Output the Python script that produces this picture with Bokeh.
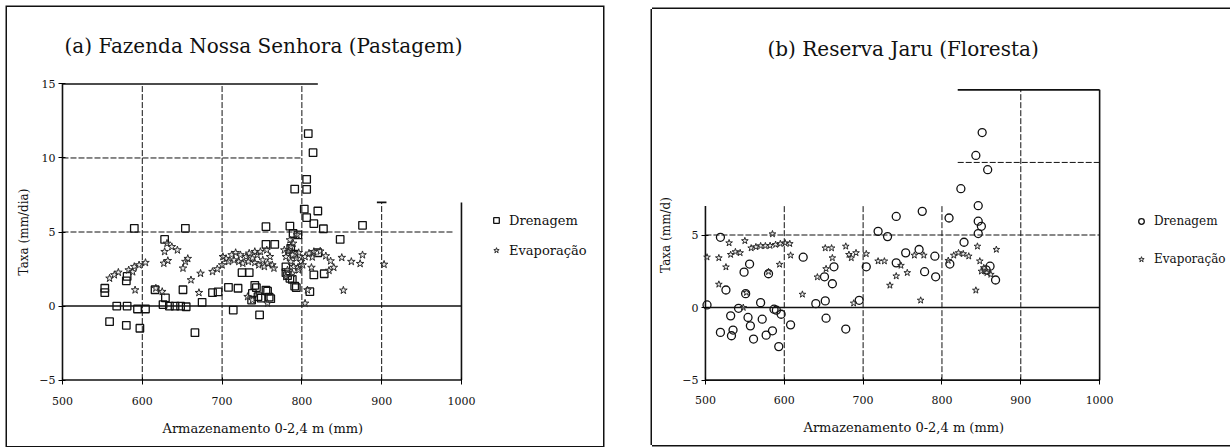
from bokeh.plotting import figure
from bokeh.models import (Range1d, FixedTicker, Legend, LegendItem, Spacer, Title)
from bokeh.layouts import row, column
from bokeh.embed import file_html
from bokeh.resources import INLINE

FONT = "DejaVu Serif"

# ---------------- data: (a) Fazenda Nossa Senhora (Pastagem) ----------------
a_dren_x = [553, 553, 559, 568, 581, 580, 581, 580, 590, 594, 604, 597, 616, 628, 629,
            626, 634, 641, 648, 655, 651, 654, 675, 666, 688, 695, 708, 720, 714, 725,
            734, 741, 738, 747, 755, 755, 766, 755, 759, 745, 737, 743, 757, 749, 761,
            785, 789, 780, 780, 785, 791, 786, 790, 782, 788, 793, 791, 806, 806, 808,
            814, 803, 806, 820, 815, 827, 876, 848, 820, 815, 828, 810, 795]
a_dren_y = [1.2, 0.9, -1.06, 0.0, 0.0, 1.7, 2.0, -1.3, 5.25, -0.2, -0.2, -1.5, 1.1, 4.5, 0.55,
            0.1, 0.0, 0.0, 0.0, -0.05, 1.1, 5.25, 0.25, -1.8, 0.9, 0.95, 1.26, 1.2, -0.27, 2.25,
            2.25, 1.4, 0.85, -0.6, 5.36, 4.17, 4.17, 1.08, 0.6, 0.63, 0.4, 1.24, 1.0, 0.54, 0.5,
            5.4, 4.9, 2.65, 2.25, 1.87, 1.35, 3.9, 3.5, 2.05, 1.8, 1.24, 7.9, 8.56, 7.88, 11.65,
            10.36, 6.55, 5.97, 6.42, 5.56, 5.22, 5.45, 4.5, 3.6, 2.1, 2.18, 0.97, 4.8]

a_evap_x = [559, 565, 570, 583, 590, 596, 604, 588, 591, 617, 625, 628, 631, 637, 644,
            627, 632, 651, 654, 657, 661, 673, 671, 688, 694, 700, 705, 712, 717, 723,
            730, 738, 744, 751, 757, 763, 732, 738, 757, 780, 784, 789, 794, 786, 782,
            788, 804, 807, 823, 830, 836, 840, 834, 850, 862, 873, 876, 852, 903, 796,
            795, 813, 812,
            701, 708, 715, 721, 726, 733, 741, 746, 753, 760, 765, 734, 741, 748, 756,
            778, 783, 788, 793, 799, 804, 809, 815, 786, 790, 796, 801, 785, 780]
a_evap_y = [1.87, 2.1, 2.27, 2.43, 2.66, 2.77, 2.93, 2.3, 1.08, 1.2, 0.97, 3.67, 4.23, 4.0, 3.78,
            2.88, 3.06, 2.55, 3.0, 3.2, 1.76, 2.2, 0.9, 2.32, 2.5, 2.77, 3.2, 3.45, 3.6, 3.45,
            3.33, 3.22, 3.45, 3.1, 2.88, 2.77, 0.63, 0.4, 0.18, 3.33, 3.78, 4.23, 4.8, 3.0, 2.43,
            2.2, 0.18, 1.08, 3.7, 3.38, 3.04, 2.6, 2.4, 3.27, 3.0, 2.86, 3.45, 1.06, 2.81, 3.6,
            2.6, 3.3, 2.6,
            3.33, 3.0, 3.1, 3.0, 2.88, 3.0, 2.93, 2.77, 2.66, 3.33, 2.55, 3.56, 3.67, 3.67, 3.78,
            3.78, 3.67, 3.45, 3.22, 3.0, 3.33, 3.56, 3.67, 4.0, 2.66, 2.43, 2.77, 4.46, 1.98]

# ---------------- data: (b) Reserva Jaru (Floresta) ----------------
b_dren_x = [502, 519, 526, 519, 532, 533, 535, 542, 549, 556, 551, 554, 557, 561, 570,
            572, 577, 580, 585, 587, 590, 596, 593, 608, 624, 640, 652, 651, 661, 663,
            653, 678, 695, 704, 719, 731, 742, 742, 775, 754, 771, 778, 791, 792, 809,
            824, 843, 851, 858, 846, 846, 850, 846, 828, 810, 861, 868, 856]
b_dren_y = [0.18, 4.84, 1.21, -1.71, -0.57, -1.94, -1.55, -0.05, 2.44, 3.0, 0.96, -0.68, -1.26, -2.17, 0.34,
            -0.8, -1.9, 2.33, -1.6, -0.11, -0.18, -0.46, -2.69, -1.19, 3.47, 0.27, 0.46, 2.12, 1.64, 2.81,
            -0.73, -1.48, 0.5, 2.81, 5.25, 4.89, 6.28, 3.08, 6.63, 3.77, 4.0, 2.47, 3.54, 2.12, 6.17,
            8.19, 10.48, 12.06, 9.5, 7.02, 5.95, 5.6, 5.1, 4.5, 3.0, 2.85, 1.9, 2.6]

b_evap_x = [502, 517, 526, 530, 532, 538, 544, 550, 558, 564, 570, 576, 582, 589, 595,
            601, 607, 585, 580, 594, 608, 517, 552, 548, 623, 642, 653, 652, 660, 661,
            678, 682, 685, 691, 704, 688, 719, 727, 734, 742, 748, 756, 765, 773, 777,
            808, 815, 821, 827, 834, 845, 869, 843, 848, 853, 857, 862, 850]
b_evap_y = [3.47, 3.42, 2.79, 4.45, 3.65, 3.84, 3.77, 4.6, 4.1, 4.18, 4.25, 4.25, 4.27, 4.34, 4.4,
            4.45, 4.4, 5.07, 2.47, 2.97, 3.6, 1.6, 1.03, 0.0, 0.91, 2.1, 2.67, 4.1, 4.1, 3.42,
            4.22, 3.65, 3.42, 3.77, 3.7, 0.3, 3.2, 3.2, 1.53, 2.17, 2.9, 2.4, 3.6, 0.5, 3.6,
            3.24, 3.6, 3.77, 3.7, 3.54, 4.22, 4.0, 1.19, 3.2, 2.74, 2.4, 2.28, 2.5]

x_ticks = [500, 600, 700, 800, 900, 1000]
a_y_ticks = [-5, 0, 5, 10, 15]
b_y_ticks = [-5, 0, 5]

titles = ["(a) Fazenda Nossa Senhora (Pastagem)", "(b) Reserva Jaru (Floresta)"]
y_labels = ["Taxa (mm/dia)", "Taxa (mm/d)"]
x_label = "Armazenamento 0-2,4 m (mm)"
series_names = ["Drenagem", "Evaporação"]

# frame decoration lines (x0, y0, x1, y1) in axis units
a_solid = [(500, -5, 500, 15), (500, -5, 1000, -5), (500, 15, 820, 15),
           (1000, -5, 1000, 7), (500, 0, 1000, 0), (894, 7, 906, 7)]
a_dash = [(600, -5, 600, 15), (700, -5, 700, 15), (800, -5, 800, 15),
          (900, -5, 900, 7), (500, 10, 800, 10), (500, 5, 990, 5)]
b_solid = [(500, -5, 500, 7), (500, -5, 1000, -5), (820, 15, 1000, 15),
           (1000, -5, 1000, 15), (500, 0, 1000, 0)]
b_dash = [(600, -5, 600, 7), (700, -5, 700, 7), (800, -5, 800, 7),
          (900, -5, 900, 15), (500, 5, 1000, 5), (820, 10, 1000, 10)]


def seg(p, lines, dash):
    x0, y0, x1, y1 = zip(*lines)
    p.segment(list(x0), list(y0), list(x1), list(y1), line_color="#111111",
              line_width=1.0 if dash else 1.6, line_dash="6 2" if dash else "solid")


def panel(W, H, fh, mbl, mbt, x_end, yticks, ylab, solid, dash, title, t_off, t_standoff,
          dx, dy, ex, ey, marker, msize, ssize, leg_loc, leg_spacing,
          leg_font, ylab_standoff, xtick_standoff, xl_off, xl_standoff, shadow):
    p = figure(width=W, height=H,
               min_border_left=mbl, min_border_right=0,
               min_border_top=mbt, min_border_bottom=H - mbt - fh,
               x_range=Range1d(495, x_end), y_range=Range1d(-5.3, 15.3),
               output_backend="svg", toolbar_location=None,
               styles={"box-shadow": shadow})
    p.outline_line_color = None
    p.xgrid.visible = False
    p.ygrid.visible = False
    for ax in (p.xaxis, p.yaxis):
        ax.axis_line_color = None
        ax.major_tick_out = 0
        ax.major_tick_in = 7
        ax.minor_tick_line_color = None
        ax.major_label_text_font = FONT
        ax.major_label_text_font_size = "11px"
        ax.major_label_text_color = "#111111"
        ax.axis_label_text_font = FONT
        ax.axis_label_text_font_style = "normal"
        ax.axis_label_text_color = "#111111"
    p.xaxis.ticker = FixedTicker(ticks=x_ticks)
    p.yaxis.ticker = FixedTicker(ticks=yticks)
    p.xaxis.major_label_standoff = xtick_standoff
    p.yaxis.major_label_standoff = 3
    p.yaxis.axis_label = ylab
    p.yaxis.axis_label_text_font_size = "12px"
    p.yaxis.axis_label_standoff = ylab_standoff

    p.title.text = title
    p.title.align = "left"
    p.title.offset = t_off
    p.title.text_font = FONT
    p.title.text_font_size = "20px"
    p.title.text_font_style = "normal"
    p.title.text_color = "#111111"
    p.title.standoff = t_standoff

    p.add_layout(Title(text=x_label, align="left", offset=xl_off, standoff=xl_standoff,
                       text_font=FONT, text_font_size="13px", text_font_style="normal",
                       text_color="#111111"), "below")

    seg(p, dash, True)
    seg(p, solid, False)

    r1 = p.scatter(dx, dy, marker=marker, size=msize, fill_color=None,
                   line_color="#111111", line_width=1.3)
    r2 = p.scatter(ex, ey, marker="star", size=ssize, fill_color="#cccccc", fill_alpha=0.4,
                   line_color="#2a2a2a", line_width=1.0)

    leg = Legend(items=[LegendItem(label=series_names[0], renderers=[r1]),
                        LegendItem(label=series_names[1], renderers=[r2])],
                 location=leg_loc, border_line_color=None, background_fill_alpha=0,
                 label_text_font=FONT, label_text_font_size=leg_font,
                 label_text_color="#111111",
                 glyph_width=14, glyph_height=20, label_height=20,
                 spacing=leg_spacing, padding=0, margin=0, label_standoff=6)
    p.add_layout(leg)
    return p


pa = panel(596, 439, 305, 51, 72, 1178, a_y_ticks, y_labels[0], a_solid, a_dash,
           titles[0], 6, 44, a_dren_x, a_dren_y, a_evap_x, a_evap_y,
           "square", 7.5, 8, (431, 124), 10, "13px", 5, 12, 104, 22,
           "0 0 0 1.5px #111")
pb = panel(578, 436, 302, 49, 74, 1166, b_y_ticks, y_labels[1], b_solid, b_dash,
           titles[1], 66, 50, b_dren_x, b_dren_y, b_evap_x, b_evap_y,
           "circle", 8, 7, (433, 115), 18, "12px", 6, 11, 102, 22,
           "-1.5px 0 0 0 #111, 0 -1.5px 0 0 #111, 0 1.5px 0 0 #111")

layout = row(Spacer(width=7, height=446), column(Spacer(width=596, height=7), pa),
             Spacer(width=49, height=446), column(Spacer(width=578, height=9), pb))
open("out.html", "w").write(file_html(layout, INLINE))
